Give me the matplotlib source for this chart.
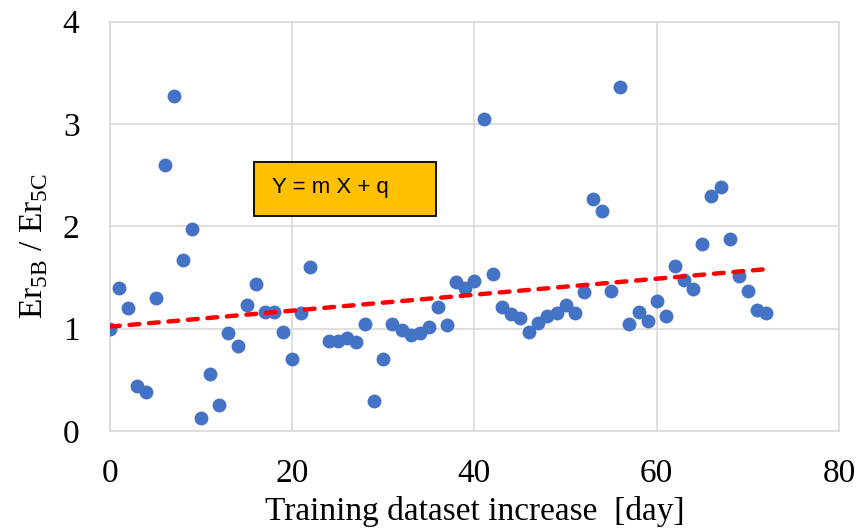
import numpy as np
import matplotlib
matplotlib.use("Agg")
import matplotlib.pyplot as plt
from matplotlib.patches import Rectangle

# days since start (day 23 has no point)
days = [0, 1, 2, 3, 4, 5, 6, 7, 8, 9, 10, 11, 12, 13, 14, 15, 16, 17, 18, 19,
        20, 21, 22, 24, 25, 26, 27, 28, 29, 30, 31, 32, 33, 34, 35, 36, 37, 38,
        39, 40, 41, 42, 43, 44, 45, 46, 47, 48, 49, 50, 51, 52, 53, 54, 55, 56,
        57, 58, 59, 60, 61, 62, 63, 64, 65, 66, 67, 68, 69, 70, 71, 72]
ratio = [1.00, 1.40, 1.20, 0.44, 0.38, 1.30, 2.60, 3.27, 1.67, 1.97, 0.13, 0.56,
         0.25, 0.955, 0.83, 1.235, 1.44, 1.16, 1.16, 0.97, 0.70, 1.15, 1.60,
         0.875, 0.875, 0.91, 0.87, 1.05, 0.29, 0.70, 1.05, 0.99, 0.94, 0.955,
         1.02, 1.215, 1.04, 1.46, 1.40, 1.465, 3.05, 1.535, 1.21, 1.145, 1.10,
         0.97, 1.06, 1.12, 1.15, 1.23, 1.15, 1.355, 2.27, 2.15, 1.37, 3.36,
         1.05, 1.16, 1.075, 1.27, 1.12, 1.615, 1.48, 1.385, 1.83, 2.30, 2.385,
         1.88, 1.515, 1.37, 1.18, 1.15]

trend_m = 0.0078
trend_q = 1.02

plt.rcParams["font.family"] = ["Liberation Serif", "DejaVu Serif"]
plt.rcParams["mathtext.fontset"] = "custom"
plt.rcParams["mathtext.rm"] = "Liberation Serif"

fig = plt.figure(figsize=(8.61, 5.29), dpi=100)
ax = fig.add_axes([0.1278, 0.1853, 0.8466, 0.7737])

ax.scatter(days, ratio, s=100, color="#4472C4", zorder=3, linewidths=0)

tx = np.array([days[0], days[-1]])
ax.plot(tx, trend_m * tx + trend_q, color="#FF0000", lw=3.2, ls=(0, (2.2, 2.2)),
        dash_capstyle="round", zorder=4)

ax.set_xlim(0, 80)
ax.set_ylim(0, 4)
ax.set_xticks([0, 20, 40, 60, 80])
ax.set_yticks([0, 1, 2, 3, 4])
ax.grid(True, color="#D9D9D9", lw=1.2)
ax.set_axisbelow(True)
for sp in ax.spines.values():
    sp.set_color("#D9D9D9")
    sp.set_linewidth(1.2)
ax.tick_params(length=0, labelsize=24)
ax.tick_params(axis="x", pad=20)
ax.tick_params(axis="y", pad=22)

ax.set_xlabel("Training dataset increase  [day]", fontsize=24, labelpad=5)
ax.set_ylabel(r"Er$_{\rm 5B}$ / Er$_{\rm 5C}$", fontsize=24, labelpad=9, y=0.452)

# equation box
ax.add_patch(Rectangle((0.1975, 0.526), 0.2495, 0.132, transform=ax.transAxes,
                       facecolor="#FFC000", edgecolor="black", lw=1.3, zorder=5))
ax.text(0.222, 0.594, "Y = m X + q", transform=ax.transAxes, fontsize=16,
        family=["Liberation Sans", "DejaVu Sans"], va="center", ha="left", zorder=6)

fig.savefig("out.png", dpi=100)
